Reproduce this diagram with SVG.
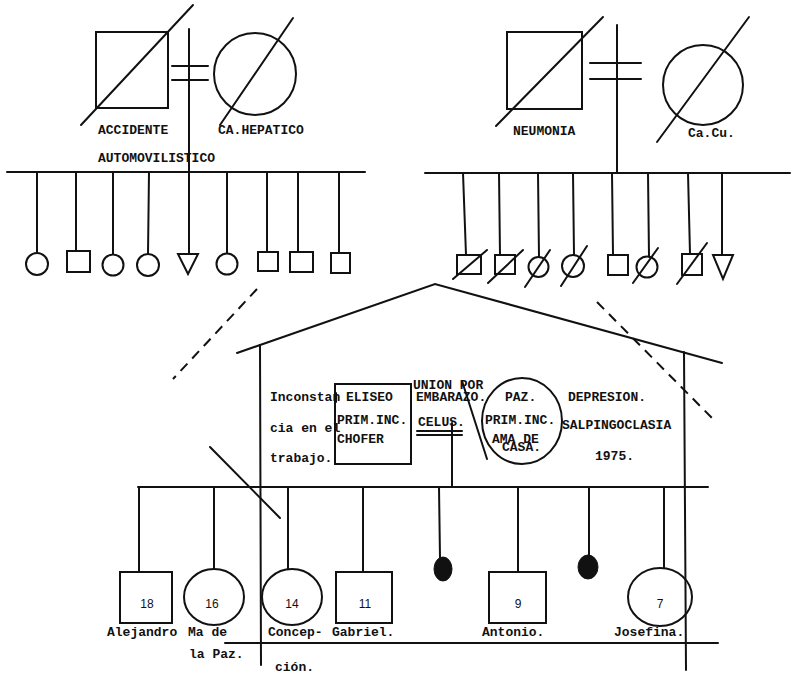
<svg xmlns="http://www.w3.org/2000/svg" width="791" height="675" viewBox="0 0 791 675">
<style>
.l{stroke:#111;stroke-width:2;fill:none;stroke-linecap:round}
.d{stroke:#111;stroke-width:2;fill:none;stroke-dasharray:10 7}
.t{font-family:"Liberation Mono","DejaVu Sans Mono",monospace;font-size:13px;fill:#111;font-weight:bold}
.n{font-family:"Liberation Sans",Arial,sans-serif;font-size:12px;fill:#111}
.f{fill:#111;stroke:#111;stroke-width:1}
</style>
<rect width="791" height="675" fill="#fff"/>

<!-- Left grandparents -->
<g id="gp-left-male">
<rect class="l" x="96" y="32" width="72" height="76"/>
<line class="l" x1="81" y1="125" x2="193" y2="5"/>
<text class="t" x="98" y="134">ACCIDENTE</text>
<text class="t" x="98" y="162">AUTOMOVILISTICO</text>
</g>
<g id="gp-left-female">
<circle class="l" cx="255" cy="74" r="41"/>
<line class="l" x1="220" y1="125" x2="293" y2="18"/>
<text class="t" x="218" y="134">CA.HEPATICO</text>
</g>
<!-- Right grandparents -->
<g id="gp-right-male">
<rect class="l" x="507" y="32" width="75" height="77"/>
<line class="l" x1="496" y1="126" x2="603" y2="17"/>
<text class="t" x="513" y="135">NEUMONIA</text>
</g>
<g id="gp-right-female">
<circle class="l" cx="703" cy="85" r="40"/>
<line class="l" x1="657" y1="142" x2="749" y2="17"/>
<text class="t" x="688" y="137">Ca.Cu.</text>
</g>

<!-- Left uncles/aunts -->
<g id="lc1"><circle class="l" cx="37" cy="264" r="11"/></g>
<g id="lc2"><rect class="l" x="67" y="251" width="23" height="21"/></g>
<g id="lc3"><circle class="l" cx="113" cy="265" r="10.5"/></g>
<g id="lc4"><circle class="l" cx="148" cy="265" r="11"/></g>
<g id="lc5"><polygon class="l" points="178,254 198,254 188,274"/></g>
<g id="lc6"><circle class="l" cx="227" cy="264" r="10.5"/></g>
<g id="lc7"><rect class="l" x="258" y="252" width="20" height="19"/></g>
<g id="lc8"><rect class="l" x="290" y="252" width="23" height="20"/></g>
<g id="lc9"><rect class="l" x="331" y="253" width="19" height="20"/></g>

<!-- Right uncles/aunts -->
<g id="rc1"><rect class="l" x="457" y="255" width="24" height="19"/><line class="l" x1="453" y1="279" x2="487" y2="250"/></g>
<g id="rc2"><rect class="l" x="495" y="255" width="20" height="19"/><line class="l" x1="488" y1="283" x2="523" y2="250"/></g>
<g id="rc3"><circle class="l" cx="538.5" cy="267" r="10"/><line class="l" x1="525" y1="287" x2="550" y2="250"/></g>
<g id="rc4"><circle class="l" cx="573" cy="266" r="11"/><line class="l" x1="561" y1="286" x2="587" y2="246"/></g>
<g id="rc5"><rect class="l" x="608" y="255" width="20" height="20"/></g>
<g id="rc6"><circle class="l" cx="647" cy="267" r="10.5"/><line class="l" x1="633" y1="283" x2="658" y2="248"/></g>
<g id="rc7"><rect class="l" x="682" y="254" width="20" height="21"/><line class="l" x1="677" y1="284" x2="707" y2="243"/></g>
<g id="rc8"><polygon class="l" points="713,255 733,255 723,279"/></g>

<!-- Parents -->
<g id="father-eliseo">
<rect class="l" x="335" y="384" width="76" height="80"/>
<text class="t" x="346" y="401">ELISEO</text>
<text class="t" x="337" y="424">PRIM.INC.</text>
<text class="t" x="337" y="443">CHOFER</text>
</g>
<g id="mother-paz">
<ellipse class="l" cx="522" cy="421" rx="40" ry="43"/>
<text class="t" x="505" y="401">PAZ.</text>
<text class="t" x="485" y="424">PRIM.INC.</text>
<text class="t" x="492" y="443">AMA DE</text>
<text class="t" x="502" y="451">CASA.</text>
</g>
<g id="notes">
<text class="t" x="270" y="401">Inconstan</text>
<text class="t" x="270" y="432">cia en el</text>
<text class="t" x="270" y="462">trabajo.</text>
<text class="t" x="413" y="389">UNION POR</text>
<text class="t" x="416" y="401">EMBARAZO.</text>
<text class="t" x="418" y="426">CELUS.</text>
<line class="l" x1="417" y1="431" x2="462" y2="431"/>
<line class="l" x1="417" y1="435" x2="462" y2="435"/>
<text class="t" x="568" y="401">DEPRESION.</text>
<text class="t" x="562" y="429">SALPINGOCLASIA</text>
<text class="t" x="595" y="460">1975.</text>
</g>

<!-- Children -->
<g id="c-alejandro">
<rect class="l" x="120" y="572" width="52" height="51"/>
<text class="n" x="147" y="608" text-anchor="middle">18</text>
<text class="t" x="107" y="636">Alejandro</text>
</g>
<g id="c-mapaz">
<ellipse class="l" cx="214" cy="597" rx="30" ry="28"/>
<text class="n" x="212" y="608" text-anchor="middle">16</text>
<text class="t" x="188" y="636">Ma de</text>
<text class="t" x="189" y="658">la Paz.</text>
</g>
<g id="c-concepcion">
<ellipse class="l" cx="292" cy="597" rx="30" ry="28"/>
<text class="n" x="292" y="608" text-anchor="middle">14</text>
<text class="t" x="268" y="636">Concep-</text>
<text class="t" x="275" y="671">ción.</text>
</g>
<g id="c-gabriel">
<rect class="l" x="336" y="572" width="56" height="51"/>
<text class="n" x="365" y="608" text-anchor="middle">11</text>
<text class="t" x="332" y="636">Gabriel.</text>
</g>
<g id="c-abort1"><ellipse class="f" cx="443" cy="569" rx="9" ry="12"/></g>
<g id="c-antonio">
<rect class="l" x="489" y="572" width="57" height="51"/>
<text class="n" x="518" y="608" text-anchor="middle">9</text>
<text class="t" x="482" y="636">Antonio.</text>
</g>
<g id="c-abort2"><ellipse class="f" cx="588" cy="567" rx="10" ry="12"/></g>
<g id="c-josefina">
<ellipse class="l" cx="660" cy="597" rx="32" ry="29"/>
<text class="n" x="660" y="608" text-anchor="middle">7</text>
<text class="t" x="614" y="636">Josefina.</text>
</g>

<!-- Connectors -->
<g id="connectors">
<line class="l" x1="172" y1="66" x2="208" y2="66"/>
<line class="l" x1="172" y1="80" x2="208" y2="80"/>
<line class="l" x1="189" y1="29" x2="189" y2="254"/>
<line class="l" x1="7" y1="172" x2="365" y2="172"/>
<line class="l" x1="37" y1="172" x2="37" y2="253"/>
<line class="l" x1="76" y1="172" x2="76" y2="251"/>
<line class="l" x1="113" y1="172" x2="113" y2="254"/>
<line class="l" x1="149" y1="172" x2="148" y2="254"/>
<line class="l" x1="227" y1="172" x2="227" y2="253"/>
<line class="l" x1="267" y1="172" x2="267" y2="252"/>
<line class="l" x1="298" y1="172" x2="298" y2="252"/>
<line class="l" x1="339" y1="172" x2="339" y2="253"/>
<line class="l" x1="590" y1="63" x2="641" y2="63"/>
<line class="l" x1="590" y1="79" x2="641" y2="79"/>
<line class="l" x1="617" y1="25" x2="617" y2="173"/>
<line class="l" x1="425" y1="173" x2="790" y2="173"/>
<line class="l" x1="463" y1="173" x2="466" y2="255"/>
<line class="l" x1="499" y1="173" x2="500" y2="255"/>
<line class="l" x1="538" y1="173" x2="539" y2="257"/>
<line class="l" x1="573" y1="173" x2="574" y2="255"/>
<line class="l" x1="612" y1="173" x2="613" y2="255"/>
<line class="l" x1="648" y1="173" x2="649" y2="256"/>
<line class="l" x1="688" y1="173" x2="690" y2="254"/>
<line class="l" x1="722" y1="173" x2="722" y2="255"/>
<polyline class="l" points="237,353 435,284 722,363"/>
<line class="l" x1="260" y1="345" x2="261" y2="665"/>
<line class="l" x1="684" y1="352" x2="686" y2="670"/>
<line class="d" x1="257" y1="289" x2="173" y2="379"/>
<line class="d" x1="597" y1="302" x2="714" y2="420"/>
<line class="l" x1="210" y1="447" x2="280" y2="518"/>
<line class="l" x1="462" y1="381" x2="487" y2="459"/>
<line class="l" x1="336" y1="393" x2="336" y2="402"/>
<line class="l" x1="452" y1="423" x2="452" y2="487"/>
<line class="l" x1="138" y1="487" x2="708" y2="487"/>
<line class="l" x1="139" y1="487" x2="139" y2="572"/>
<line class="l" x1="214" y1="487" x2="214" y2="569"/>
<line class="l" x1="288" y1="487" x2="288" y2="569"/>
<line class="l" x1="363" y1="487" x2="363" y2="572"/>
<line class="l" x1="439" y1="487" x2="440" y2="558"/>
<line class="l" x1="518" y1="487" x2="518" y2="572"/>
<line class="l" x1="589" y1="487" x2="589" y2="556"/>
<line class="l" x1="664" y1="487" x2="664" y2="568"/>
<line class="l" x1="225" y1="643" x2="718" y2="643"/>
</g>
</svg>
